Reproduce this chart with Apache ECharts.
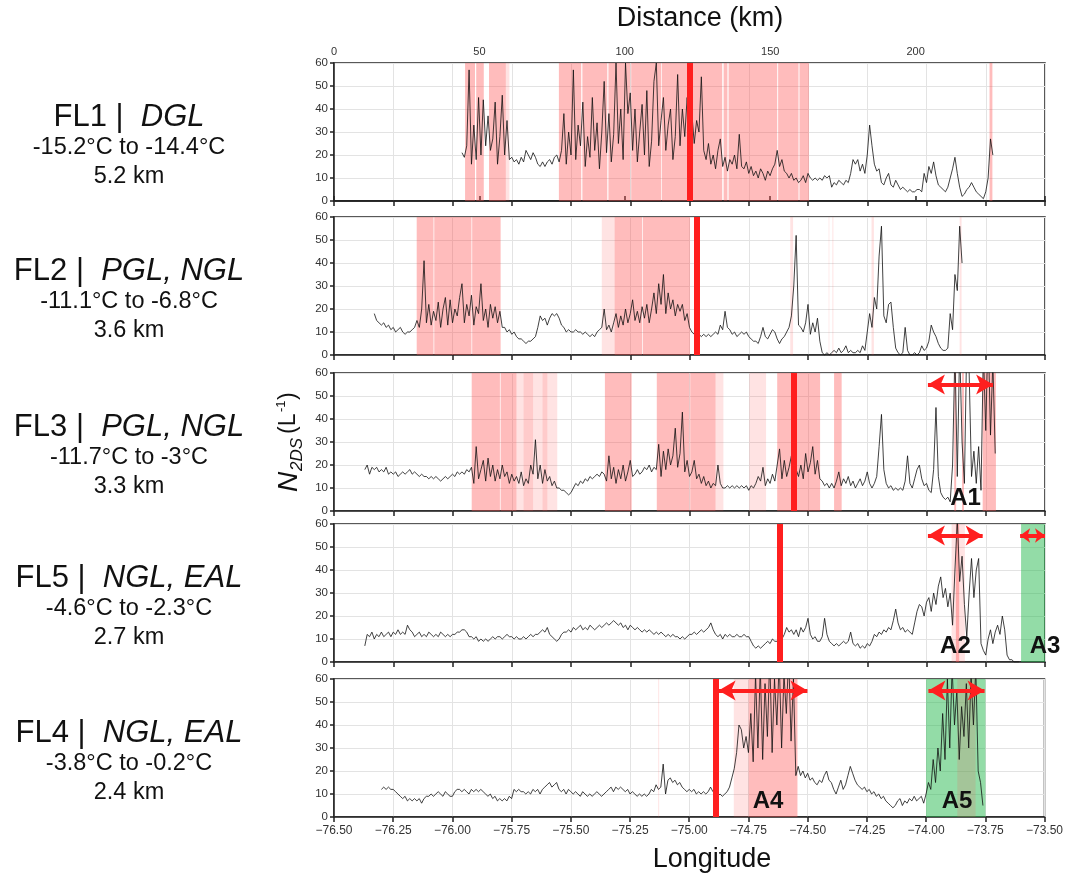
<!DOCTYPE html>
<html>
<head>
<meta charset="utf-8">
<script src="https://cdn.jsdelivr.net/npm/echarts@6/dist/echarts.min.js"></script>
<style>
  html, body { margin: 0; padding: 0; background: #fff; }
  #chart { width: 1066px; height: 873px; }
</style>
</head>
<body>
<div id="chart"></div>
<script>
// flight leg labels (panel order top to bottom)
const flNames = ['FL1 |  ', 'FL2 |  ', 'FL3 |  ', 'FL5 |  ', 'FL4 |  '];
const flTypes = ['DGL', 'PGL, NGL', 'PGL, NGL', 'NGL, EAL', 'NGL, EAL'];
const flTemps = ['-15.2°C to -14.4°C', '-11.1°C to -6.8°C', '-11.7°C to -3°C', '-4.6°C to -2.3°C', '-3.8°C to -0.2°C'];
const flAlts = ['5.2 km', '3.6 km', '3.3 km', '2.7 km', '2.4 km'];

// N2DS samples, one every 0.01 deg of longitude from the start value
const startLon = [-75.96, -76.33, -76.37, -76.37, -76.30];
const lonStep = 0.01;

const fl1 = [21,19,24,57,16,33,18,45,20,44,24,37,22,27,43,16,28,46,20,35,18,
  19,17,18,16,19,17,22,20,18,21,19,16,15,17,15,17,18,16,19,20,
  17,22,38,16,30,20,57,18,33,24,43,15,28,19,45,22,34,14,30,52,21,38,17,29,60,25,40,18,60,38,47,22,40,17,30,42,20,48,15,26,52,60,24,35,
  45,22,33,40,18,28,55,24,40,28,45,30,38,25,35,30,54,22,
  18,25,16,20,14,22,27,15,19,13,18,16,20,14,29,15,
  14,17,12,15,11,13,10,14,12,9,13,11,14,16,22,15,18,13,12,10,12,9,10,8,9,11,8,12,10,
  9,10,9,10,9,11,10,11,6,8,7,9,8,7,9,8,12,18,
  16,18,13,16,12,20,33,24,16,13,14,8,
  7,10,12,7,6,9,7,5,6,5,4,5,4,4,5,5,4,
  12,8,15,12,17,11,7,6,5,4,6,10,14,19,12,6,
  2,3,5,6,8,6,4,3,2,1,4,10,27,20];

const fl2 = [18,15,14,13,14,12,13,11,12,10,11,12,10,9,10,10,11,12,15,
  12,20,41,14,22,13,19,15,23,12,20,25,13,24,14,20,17,25,31,14,22,17,26,13,21,18,31,15,20,12,22,16,21,14,19,
  12,12,10,11,9,10,8,7,7,6,5,6,6,7,8,12,17,15,16,13,16,18,17,18,16,13,12,10,11,10,10,11,10,10,9,10,9,8,9,8,10,11,12,
  20,11,13,10,14,18,12,17,13,20,14,18,24,15,19,14,21,16,22,14,20,27,18,31,
  22,35,18,27,20,24,17,22,19,22,15,18,12,10,
  9,8,9,8,9,8,9,8,9,10, 9,13,11,19,12,11,9,10,8,9, 10,9,10,8,7,6,6,5,8,12,
  8,7,9,11,10,7,5,7,8,10, 12,17,30,52,13,12,10,14,22,9, 14,10,16,6,1,0,1,0,1,2,
  1,3,1,2,4,1,2,1,1,2, 1,4,2,10,18,12,25,20,43,56, 17,14,22,23,12,3,1,0,1,12,
  2,0,0,1,0,1,4,2,3,6, 13,10,8,5,3,2,2,3,18,11, 35,28,56,40];

const fl3 = [18,20,16,19,18,19,17,18,17,19, 16,17,16,17,15,16,17,16,17,18, 16,17,16,15,16,15,15,14,15,14,
  15,14,13,14,15,14,15,16,15,17, 16,17,16,18,17,19,
  12,28,14,18,22,13,23,15,20,13, 18,14,20,15,17,12,16,13,15,12, 17,11,14,12,20,16,31,14,20,12, 18,13,15,11,13,10,
  10,9,9,8,7,8,10,12,11,13,12,14,13,15,14,15,16,15,17,16,
  13,24,14,19,12,18,14,20,13,17,22,
  15,16,18,16,17,19,18,20,17,19,18,
  29,15,26,18,27,20,24,36,19,25,43,17,22,15,
  17,22,14,16,12,15,11,13,10,12,11,20,12,
  10,10,11,10,11,10,11,10,11,10,11,9,11,10,12,
  15,13,19,11,14,12,16,13,20,27, 14,22,15,19,24,13,18,15,20,14, 25,17,21,28,16,22,14,
  13,11,12,10,12,10,13,17,11,14, 12,15,11,13,10,12,14,11,13,17, 12,10,
  12,15,28,42,18,12,10,11,9,10, 9,10,9,13,24,12,10,14,18,20, 14,11,12,9,8,18,45,15,8,6, 5,6,4,
  20,70,15,72,30,12,75,60,15,26,12,28,9,70,35,80,33,65,25];

const fl5 = [7,12,11,13,10,12,11,13,11,12, 13,11,13,12,14,12,13,12,16,14, 13,11,12,13,11,12,11,13,12,11, 12,11,13,12,11,12,11,12,
  12,13,13,14,14,13,
  11,11,10,11,9,10,9,10,9,10,11,10,11,11,10,11,12,11,11,
  10,11,10,10,11,10,11,12,11,12,12,13,14,13,15,
  12,11,10,9,10,
  12,13,13,14,13,15,14,15,16,14,15,14,16,15,14,15,16,15,16,17,16,17,18,17,
  16,17,15,16,14,16,15,14,15,14, 13,14,13,14,13,12,13,12,13,12, 11,12,11,12,11,11,10, 11,10,11,12,
  12,13,12,13,14,13,14,15,17,14,
  12,11,12,10,12,11,12,11,11,12,11,11,12,11,11,
  9,7,6,7,6,7,8,9,8,10,9,
  9,8,10,12,15,13,14,12,14,11,15,13,15,19,
  12,10,11,9,9,11,19,12,9,8,7,8,7,8,9,8,9,13,8,7,8,6,
  7,6,8,7,9,12,11,13,12,14,13,15,14,18,23,17,14,15,13,14,13,12,17,22,
  25,24,20,26,28,22,30,25,33,37,28,32,24,30,16,40,62,35,46,25,11,30,45,28,40,45,8,
  5,3,10,14,8,13,16,12,20,14,3,1,1,0,0,0];

const fl4 = [12,13,12,13,12,12,11,10,
  9,8,9,7,8,7,8,7,8,6,8,9,
  9,10,9,10,11,10,9,11,10,9,9,
  11,12,12,11,12,11,10,12,11,12,11,12,11,10,
  9,10,8,9,7,8,7,8,7,9,8,
  12,11,12,11,11,10,11,10,12,11,12,10,12,13,
  14,15,13,14,15,12,
  11,12,10,12,11,10,11,10,9,11,10,9,10,9,10,11,10,9,10,11,
  12,13,11,13,12,13,12,11,12,10,11,10,9,10,9,10,9,
  10,12,11,14,12,13,23,10,16,17,15,16,14,15,
  13,12,11,12,11,12,10,11,10,11,10,11,13,11,
  10,9,10,9,10,11,13,
  17,21,28,40,38,30,35,28,
  45,24,62,30,65,25,58,35,70,28,60,40,68,30,62,45,70,33,60,18,
  22,18,20,17,19,16,17,
  15,14,16,15,18,20,16,15,12,10,13,16,12,14,18,22,19,16,14,13,
  12,13,11,12,10,11,9,10,8,9,7,6,5,4,5,7,8,5,7,6,8,7,9,7,8,9,6,
  10,15,12,25,15,30,20,45,25,60,30,65,40,55,25,48,35,58,30,62,40,65,20,15,5];

const panelVals = [fl1, fl2, fl3, fl5, fl4];

// shaded longitude intervals
const pinkBands = [
  [[-75.947,-75.905],[-75.900,-75.868],[-75.846,-75.775],[-75.551,-75.457],[-75.452,-75.347],[-75.342,-75.25],
   [-75.246,-75.12],[-75.117,-74.862],[-74.856,-74.84],[-74.835,-74.63],[-74.626,-74.54],[-74.536,-74.496],[-73.734,-73.722]],
  [[-76.151,-76.08],[-76.077,-75.92],[-75.917,-75.797],[-75.316,-75.20],[-75.197,-74.998]],
  [[-75.919,-75.80],[-75.797,-75.73],[-75.357,-75.244],[-75.138,-75.0],[-74.997,-74.89],[-74.630,-74.449],
   [-74.39,-74.358],[-73.883,-73.875],[-73.850,-73.842],[-73.763,-73.707]],
  [[-73.876,-73.862]],
  [[-74.749,-74.543]]
];
const faintBands = [
  [[-75.775,-75.76]],
  [[-75.37,-75.316],[-74.575,-74.563],[-74.413,-74.41],[-74.397,-74.393],[-74.232,-74.222],[-73.86,-73.852]],
  [[-75.73,-75.558],[-75.70,-75.66],[-75.62,-75.60],[-74.89,-74.857],[-74.748,-74.677]],
  [[-73.894,-73.838]],
  [[-75.131,-75.127],[-74.812,-74.749],[-73.868,-73.791]]
];
const greenBands = [[], [], [], [[-73.601,-73.5]], [[-74.0,-73.749]]];

const redLines = [-75.0, -74.973, -74.556, -74.618, -74.888];
const arrows = [[], [], [[-73.994,-73.719]], [[-73.994,-73.763],[-73.605,-73.5]], [[-74.876,-74.501],[-73.99,-73.753]]];
const arrowLevel = 55;
const tags = [[], [], [['A1',-73.835,5.5]], [['A2',-73.878,6.6],['A3',-73.5,6.6]], [['A4',-74.667,6.8],['A5',-73.869,6.8]]];

const lonMin = -76.5, lonMax = -73.5;
const distMax = 244.5;

const FONT = '"Liberation Sans", Arial, sans-serif';
const panelTops = [63, 217, 373, 524, 679];
const panelH = 138;

const chart = echarts.init(document.getElementById('chart'));
const grids = [], xAxes = [], yAxes = [], series = [], graphics = [];

const minusFmt = v => (v < 0 ? '\u2212' : '') + Math.abs(v).toFixed(2);

for (let p = 0; p < 5; p++) {
  grids.push({ left: 334, width: 711, top: panelTops[p], height: panelH,
    show: true, borderColor: '#222', borderWidth: 1.5 });
  xAxes.push({
    type: 'value', gridIndex: p, min: lonMin, max: lonMax, interval: 0.25,
    axisLine: { show: true, onZero: false, lineStyle: { color: '#222', width: 1.5 } },
    axisTick: { show: true, length: 5, lineStyle: { color: '#222', width: 1.5 } },
    axisLabel: { show: p === 4, fontSize: 12, color: '#333', fontFamily: FONT, margin: 8, formatter: minusFmt },
    splitLine: { show: true, lineStyle: { color: '#e3e3e3', width: 1 } }
  });
  yAxes.push({
    type: 'value', gridIndex: p, min: 0, max: 60, interval: 10,
    axisLine: { show: true, onZero: false, lineStyle: { color: '#222', width: 1.5 } },
    axisTick: { show: true, length: 4, lineStyle: { color: '#222', width: 1.5 } },
    axisLabel: { fontSize: 11.5, color: '#333', fontFamily: FONT, margin: 6 },
    splitLine: { show: true, lineStyle: { color: '#e3e3e3', width: 1 } }
  });

  const vals = panelVals[p];
  series.push({
    type: 'line', xAxisIndex: p, yAxisIndex: p, symbol: 'none', clip: true, z: 2,
    lineStyle: { color: '#111', width: 0.8 },
    data: vals.map((v, i) => [+(startLon[p] + i * lonStep).toFixed(3), v])
  });

  const areas = [];
  greenBands[p].forEach(b => areas.push([{ xAxis: b[0], itemStyle: { color: 'rgba(40,185,80,0.5)' } }, { xAxis: b[1] }]));
  faintBands[p].forEach(b => areas.push([{ xAxis: b[0], itemStyle: { color: 'rgba(255,80,80,0.16)' } }, { xAxis: b[1] }]));
  pinkBands[p].forEach(b => areas.push([{ xAxis: b[0], itemStyle: { color: 'rgba(255,80,80,0.38)' } }, { xAxis: b[1] }]));

  series.push({
    type: 'line', xAxisIndex: p, yAxisIndex: p, data: [], z: 3, silent: true,
    markArea: { silent: true, data: areas },
    markLine: {
      silent: true, symbol: 'none', label: { show: false },
      lineStyle: { type: 'solid', color: '#ff1f1f', width: 6 },
      data: [{ xAxis: redLines[p] }]
    }
  });

  // short arrows get smaller heads so the shaft still shows
  const arrowLines = arrows[p].map(a => {
    const size = (a[1] - a[0]) < 0.15 ? [11, 10] : [15, 17];
    return [{ coord: [a[0], arrowLevel], symbolSize: size }, { coord: [a[1], arrowLevel], symbolSize: size }];
  });

  series.push({
    type: 'line', xAxisIndex: p, yAxisIndex: p, data: [], z: 5, silent: true,
    markLine: {
      silent: true, symbol: ['arrow', 'arrow'], symbolSize: [15, 17], label: { show: false },
      lineStyle: { type: 'solid', color: '#ff1f1f', width: 4 },
      data: arrowLines
    },
    markPoint: {
      silent: true, symbol: 'rect', symbolSize: 1, itemStyle: { color: 'rgba(0,0,0,0)' },
      label: { show: true, position: 'inside', formatter: '{b}', fontSize: 24, fontWeight: 'bold', color: '#111', fontFamily: FONT },
      data: tags[p].map(t => ({ name: t[0], coord: [t[1], t[2]] }))
    }
  });

  const cy = panelTops[p] + 54;
  graphics.push({
    type: 'text', style: {
      x: 129, y: cy, align: 'center', verticalAlign: 'middle',
      text: '{n|' + flNames[p] + '}{t|' + flTypes[p] + '}',
      rich: {
        n: { fontSize: 31, fontFamily: FONT, fill: '#111' },
        t: { fontSize: 31, fontFamily: FONT, fontStyle: 'italic', fill: '#111' }
      }
    }
  });
  graphics.push({ type: 'text', style: { x: 129, y: cy + 31, align: 'center', verticalAlign: 'middle',
    text: flTemps[p], fontSize: 23.5, fontFamily: FONT, fill: '#111' } });
  graphics.push({ type: 'text', style: { x: 129, y: cy + 60, align: 'center', verticalAlign: 'middle',
    text: flAlts[p], fontSize: 23.5, fontFamily: FONT, fill: '#111' } });
}

// distance axis on top of the first panel
xAxes.push({
  type: 'value', gridIndex: 0, position: 'top', min: 0, max: distMax, interval: 50,
  axisLine: { show: true, lineStyle: { color: '#222', width: 1.5 } },
  axisTick: { show: true, length: 5, lineStyle: { color: '#222', width: 1.5 } },
  axisLabel: { fontSize: 11, color: '#333', fontFamily: FONT, margin: 6, formatter: v => (v % 50 === 0 ? String(v) : '') },
  splitLine: { show: false }
});

graphics.push({ type: 'text', style: { x: 700, y: 19, align: 'center', verticalAlign: 'middle',
  text: 'Distance (km)', fontSize: 27, fontFamily: FONT, fill: '#111' } });
graphics.push({ type: 'text', style: { x: 712, y: 860, align: 'center', verticalAlign: 'middle',
  text: 'Longitude', fontSize: 27, fontFamily: FONT, fill: '#111' } });

// rotated y-axis name: N_2DS (L^-1)
graphics.push({
  type: 'group', x: 289, y: 492, rotation: Math.PI / 2,
  children: [
    { type: 'text', x: 0, y: 0, style: { text: 'N', fontSize: 28, fontStyle: 'italic', fontFamily: FONT, fill: '#111', verticalAlign: 'middle' } },
    { type: 'text', x: 21, y: 8, style: { text: '2DS', fontSize: 17, fontStyle: 'italic', fontFamily: FONT, fill: '#111', verticalAlign: 'middle' } },
    { type: 'text', x: 58, y: 0, style: { text: '(L', fontSize: 23, fontFamily: FONT, fill: '#111', verticalAlign: 'middle' } },
    { type: 'text', x: 80, y: -8, style: { text: '-1', fontSize: 13, fontFamily: FONT, fill: '#111', verticalAlign: 'middle' } },
    { type: 'text', x: 92, y: 0, style: { text: ')', fontSize: 23, fontFamily: FONT, fill: '#111', verticalAlign: 'middle' } }
  ]
});

chart.setOption({
  animation: false,
  backgroundColor: '#fff',
  grid: grids,
  xAxis: xAxes,
  yAxis: yAxes,
  series: series,
  graphic: graphics
});
</script>
</body>
</html>
